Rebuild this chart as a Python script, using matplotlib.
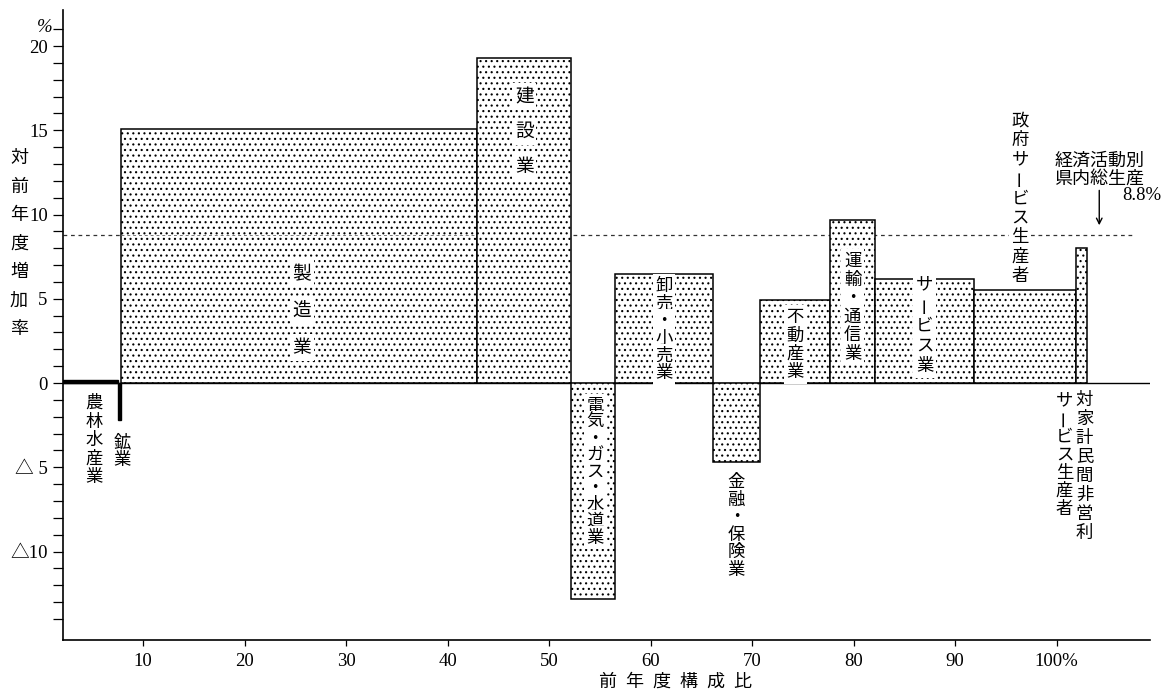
import matplotlib
matplotlib.use("Agg")
import matplotlib.pyplot as plt
from matplotlib.ticker import FixedLocator

# ---------------- data ----------------
industries = ["農林水産業", "鉱業", "製造業", "建設業", "電気・ガス・水道業",
              "卸売・小売業", "金融・保険業", "不動産業", "運輸・通信業",
              "サービス業", "政府サービス生産者", "対家計民間非営利サービス生産者"]
shares = [5.4, 0.3, 35.1, 9.3, 4.3, 9.6, 4.7, 6.9, 4.4, 9.8, 10.0, 1.1]   # 前年度構成比 (%)
growth = [0.2, -2.2, 15.1, 19.3, -12.8, 6.5, -4.7, 4.9, 9.7, 6.2, 5.5, 8.0]  # 対前年度増加率 (%)
total_growth = 8.8
x_ticks = [10, 20, 30, 40, 50, 60, 70, 80, 90, 100]
x_ticklabels = ["10", "20", "30", "40", "50", "60", "70", "80", "90", "100%"]
y_ticks = [-10, -5, 0, 5, 10, 15, 20]
y_ticklabels = ["△10", "△ 5", "0", "5", "10", "15", "20"]

# ---------------- style ----------------
JP = ["Noto Sans CJK JP", "DejaVu Sans"]
NUM = ["Liberation Serif", "DejaVu Serif"]
plt.rcParams["hatch.linewidth"] = 0.8
plt.rcParams["hatch.color"] = "black"

W, H = 1167, 690
fig = plt.figure(figsize=(W / 100, H / 100), dpi=100)
ax = fig.add_axes([63 / W, 1 - 640 / H, (1150 - 63) / W, (640 - 10) / H])

X_LEFT, X_RIGHT = 2.1, 109.2
ax.set_xlim(X_LEFT, X_RIGHT)
ax.set_ylim(-15.25, 22.14)

# cumulative left edges
lefts = []
acc = X_LEFT
for s in shares:
    lefts.append(acc)
    acc += s
centers = [l + s / 2 for l, s in zip(lefts, shares)]

# baseline and total-growth reference line
ax.axhline(0, color="black", lw=1.0, zorder=1)
ax.hlines(total_growth, X_LEFT, 107.7, colors="#333333", lw=0.9,
          linestyles=(0, (3, 3)), zorder=1)
# visible through the 製造業 block
ax.hlines(total_growth, lefts[2], lefts[2] + shares[2], colors="#777777", lw=0.7,
          linestyles=(0, (3, 3)), zorder=4)

for i, (l, s, g) in enumerate(zip(lefts, shares, growth)):
    if i < 2:
        ax.bar(l, g, width=s, align="edge", color="black", edgecolor="black",
               lw=1.0, zorder=3)
    else:
        ax.bar(l, g, width=s, align="edge", facecolor="white", edgecolor="black",
               hatch="...", lw=1.1, zorder=3)


def vlabel(x, y, text, step_px, fs=12.5, bg=False, dx_px=0.0):
    step_pt = step_px * 0.72
    for k, ch in enumerate(text):
        rot = 90 if ch == "ー" else 0
        kw = {}
        if bg:
            kw["bbox"] = dict(boxstyle="square,pad=0.15", facecolor="white",
                              edgecolor="none")
        ax.annotate(ch, xy=(x, y), xytext=(dx_px * 0.72, -k * step_pt),
                    textcoords="offset points", ha="center", va="center",
                    fontsize=fs, family=JP, rotation=rot, zorder=5,
                    annotation_clip=False, **kw)


# bar labels (vertical Japanese)
vlabel(centers[0], -1.19, "農林水産業", 18.5, dx_px=4)
vlabel(centers[1], -3.5, "鉱業", 18, dx_px=3)
vlabel(centers[2], 6.5, "製造業", 37, fs=13.5, bg=True, dx_px=3)
vlabel(centers[3], 17.0, "建設業", 35, fs=13.5, bg=True)
vlabel(centers[4], -1.34, "電気・ガス・水道業", 16.5, bg=True, dx_px=2)
vlabel(centers[5], 5.76, "卸売・小売業", 17.5, bg=True)
vlabel(centers[6], -5.88, "金融・保険業", 17.5)
vlabel(centers[7], 3.92, "不動産業", 18.5, bg=True)
vlabel(centers[8], 7.24, "運輸・通信業", 18.5, bg=True)
vlabel(centers[9], 5.85, "サービス業", 20.5, bg=True)
vlabel(centers[10], 15.6, "政府サービス生産者", 19.5, bg=True, dx_px=-5)
vlabel(centers[11], -1.0, "対家計民間非営利", 19, dx_px=3)
vlabel(centers[11], -1.05, "サービス生産者", 18, dx_px=-17)

# total growth annotation
ax.text(104.2, 13.2, "経済活動別", ha="center", va="center", fontsize=13,
        family=JP, clip_on=False)
ax.text(104.2, 12.15, "県内総生産", ha="center", va="center", fontsize=13,
        family=JP, clip_on=False)
ax.text(110.3, 11.15, f"{total_growth}%", ha="right", va="center", fontsize=13.5,
        family=NUM, clip_on=False)
ax.annotate("", xy=(104.2, total_growth + 0.4), xytext=(104.2, 11.6),
            arrowprops=dict(arrowstyle="->", lw=1.0, color="black",
                            mutation_scale=10), annotation_clip=False)

# axes styling
for side in ("top", "right"):
    ax.spines[side].set_visible(False)
ax.spines["left"].set_linewidth(1.2)
ax.spines["bottom"].set_linewidth(1.2)

ax.xaxis.set_major_locator(FixedLocator(x_ticks))
ax.set_xticklabels(x_ticklabels, fontsize=13.5, family=NUM)
ax.tick_params(axis="x", direction="out", length=4, width=0.9, pad=5)

ax.yaxis.set_major_locator(FixedLocator(y_ticks))
ax.set_yticklabels(y_ticklabels, fontsize=13.5,
                   family=["Liberation Serif", "Noto Sans CJK JP"])
ax.yaxis.set_minor_locator(FixedLocator([v for v in range(-14, 22) if v % 5 != 0]))
ax.tick_params(axis="y", which="both", direction="out", length=7, width=0.9, pad=4)

# axis titles
fig.text(45 / W, 1 - 27 / H, "%", ha="center", va="center", fontsize=13.5,
         family=NUM, style="italic")
ylab = "対前年度増加率"
for k, ch in enumerate(ylab):
    fig.text(19 / W, 1 - (158 + k * 28.5) / H, ch, ha="center", va="center",
             fontsize=13, family=JP)
xlab = "前年度構成比"
for k, ch in enumerate(xlab):
    fig.text((607 + k * 27) / W, 1 - 682 / H, ch, ha="center", va="center",
             fontsize=13, family=JP)

fig.savefig("out.png", dpi=100, facecolor="white")
